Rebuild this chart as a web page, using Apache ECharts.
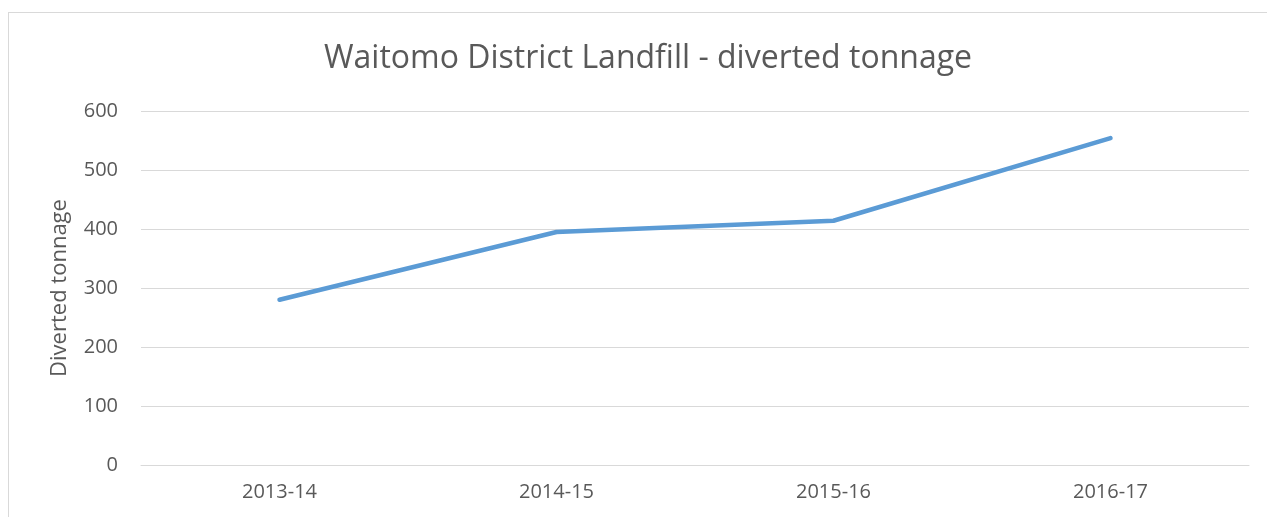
<!DOCTYPE html>
<html>
<head>
<meta charset="utf-8">
<script src="https://cdn.jsdelivr.net/npm/echarts@6/dist/echarts.min.js"></script>
<style>
  html, body { margin: 0; padding: 0; background: #fff; overflow: hidden; }
  #frame {
    position: absolute; left: 8px; top: 12px;
    width: 1270px; height: 520px;
    border: 1px solid #d9d9d9; box-sizing: border-box;
  }
  #chart { position: absolute; left: 0; top: 0; width: 1267px; height: 517px; }
</style>
</head>
<body>
<div id="frame"></div>
<div id="chart"></div>
<script>
const categories = ['2013-14', '2014-15', '2015-16', '2016-17']
const tonnage = [280, 395, 414, 554]
const titleText = 'Waitomo District Landfill - diverted tonnage'
const yAxisName = 'Diverted tonnage'

const chart = echarts.init(document.getElementById('chart'))
const textColor = '#595959'
const fontFamily = '"Open Sans", "Noto Sans", sans-serif'

chart.setOption({
  animation: false,
  title: {
    text: titleText,
    top: 38,
    left: 643,
    textAlign: 'center',
    textStyle: { color: textColor, fontSize: 32, fontWeight: 'normal', fontFamily }
  },
  grid: { left: 141, right: 18, top: 111, bottom: 52 },
  xAxis: {
    type: 'category',
    data: categories,
    boundaryGap: true,
    axisLine: { show: true, lineStyle: { color: '#d9d9d9', width: 1 } },
    axisTick: { show: false },
    axisLabel: { color: textColor, fontSize: 20, fontFamily, margin: 17 }
  },
  yAxis: {
    type: 'value',
    min: 0,
    max: 600,
    interval: 100,
    name: yAxisName,
    nameLocation: 'middle',
    nameGap: 70,
    nameTextStyle: { color: textColor, fontSize: 22, fontFamily },
    axisLine: { show: false },
    axisTick: { show: false },
    axisLabel: { color: textColor, fontSize: 20, fontFamily, margin: 23 },
    splitLine: { lineStyle: { color: '#d9d9d9', width: 1 } }
  },
  series: [
    {
      type: 'line',
      data: tonnage,
      symbol: 'none',
      lineStyle: { color: '#5b9bd5', width: 4.5, cap: 'round', join: 'round' }
    }
  ]
})
</script>
</body>
</html>
